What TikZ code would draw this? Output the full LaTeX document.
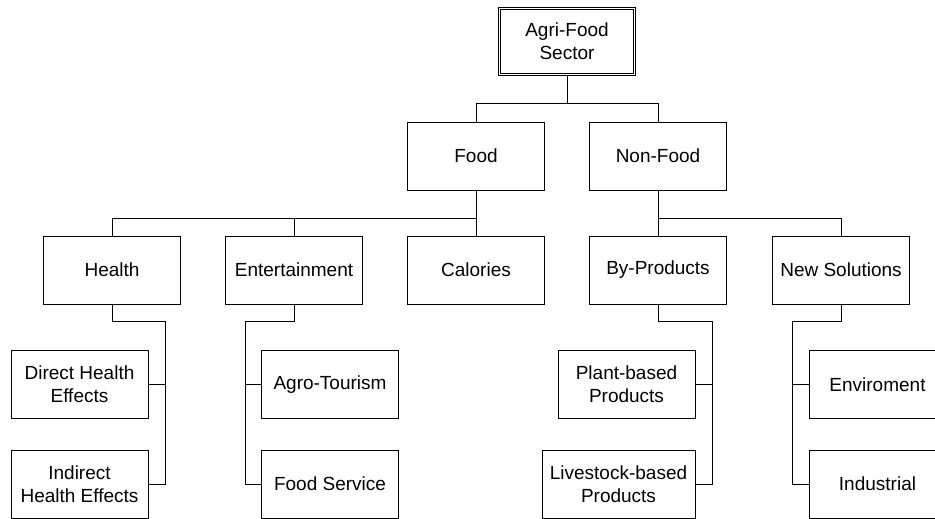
\documentclass[tikz,border=0pt]{standalone}
\usepackage{fontspec}
\setmainfont{Liberation Sans}
\usepackage{tikz}
\usetikzlibrary{positioning, calc}

\tikzset{
  sectorbox/.style={draw=black, line width=0.7pt, double, double distance=1.6pt, minimum width=135pt, minimum height=66pt, inner sep=0pt, align=center},
  catbox/.style={draw=black, line width=1pt, minimum width=137pt, minimum height=68pt, inner sep=0pt, align=center},
  link/.style={line width=1pt}
}

\begin{document}
\begin{tikzpicture}[x=1pt, y=-1pt, font=\fontsize{19}{23}\selectfont]
      \path[use as bounding box] (0,0) rectangle (935,519);

      \node[sectorbox] (sector) at (567,41.5) {Agri-Food\\Sector};

      \node[catbox] (food) at (476,156) {Food};
      \node[catbox] (nonfood) at (658,156) {Non-Food};

      \node[catbox] (health) at (112,270) {Health};
      \node[catbox] (entertain) at (294,270) {Entertainment};
      \node[catbox] (calories) at (476,270) {Calories};
      \node[catbox] (byprod) at (658,270) {By-Products};
      \node[catbox] (newsol) at (841,270) {New Solutions};

      \node[catbox] (direct) at (79.5,384.5) {Direct Health\\Effects};
      \node[catbox] (indirect) at (79.5,484) {Indirect\\Health Effects};
      \node[catbox] (agro) at (330,384.5) {Agro-Tourism};
      \node[catbox] (foodserv) at (330,484) {Food Service};
      \node[catbox] (plant) at (626.5,384.5) {Plant-based\\Products};
      \node[catbox, minimum width=153pt] (livestock) at (618.5,484) {Livestock-based\\Products};
      \node[catbox] (enviro) at (877.5,384.5) {Enviroment};
      \node[catbox] (industrial) at (877.5,484) {Industrial};

      \coordinate (topjoin) at (567,104);
      \draw[link] (sector.south) -- (topjoin) -| (food.north);
      \draw[link] (topjoin) -| (nonfood.north);

      \coordinate (foodjoin) at (476,218);
      \draw[link] (food.south) -- (calories.north);
      \draw[link] (foodjoin) -| (health.north);
      \draw[link] (foodjoin) -| (entertain.north);

      \coordinate (nonfoodjoin) at (658,218);
      \draw[link] (nonfood.south) -- (byprod.north);
      \draw[link] (nonfoodjoin) -| (newsol.north);

      \coordinate (healthbus) at (165,321);
      \draw[link] (health.south) |- (healthbus) -- (healthbus |- indirect.east) -- (indirect.east);
      \draw[link] (direct.east) -- (direct.east -| healthbus);

      \coordinate (entbus) at (245,321);
      \draw[link] (entertain.south) |- (entbus) -- (entbus |- foodserv.west) -- (foodserv.west);
      \draw[link] (agro.west) -- (agro.west -| entbus);

      \coordinate (bybus) at (712,321);
      \draw[link] (byprod.south) |- (bybus) -- (bybus |- livestock.east) -- (livestock.east);
      \draw[link] (plant.east) -- (plant.east -| bybus);

      \coordinate (newbus) at (792,321);
      \draw[link] (newsol.south) |- (newbus) -- (newbus |- industrial.west) -- (industrial.west);
      \draw[link] (enviro.west) -- (enviro.west -| newbus);
\end{tikzpicture}
\end{document}
